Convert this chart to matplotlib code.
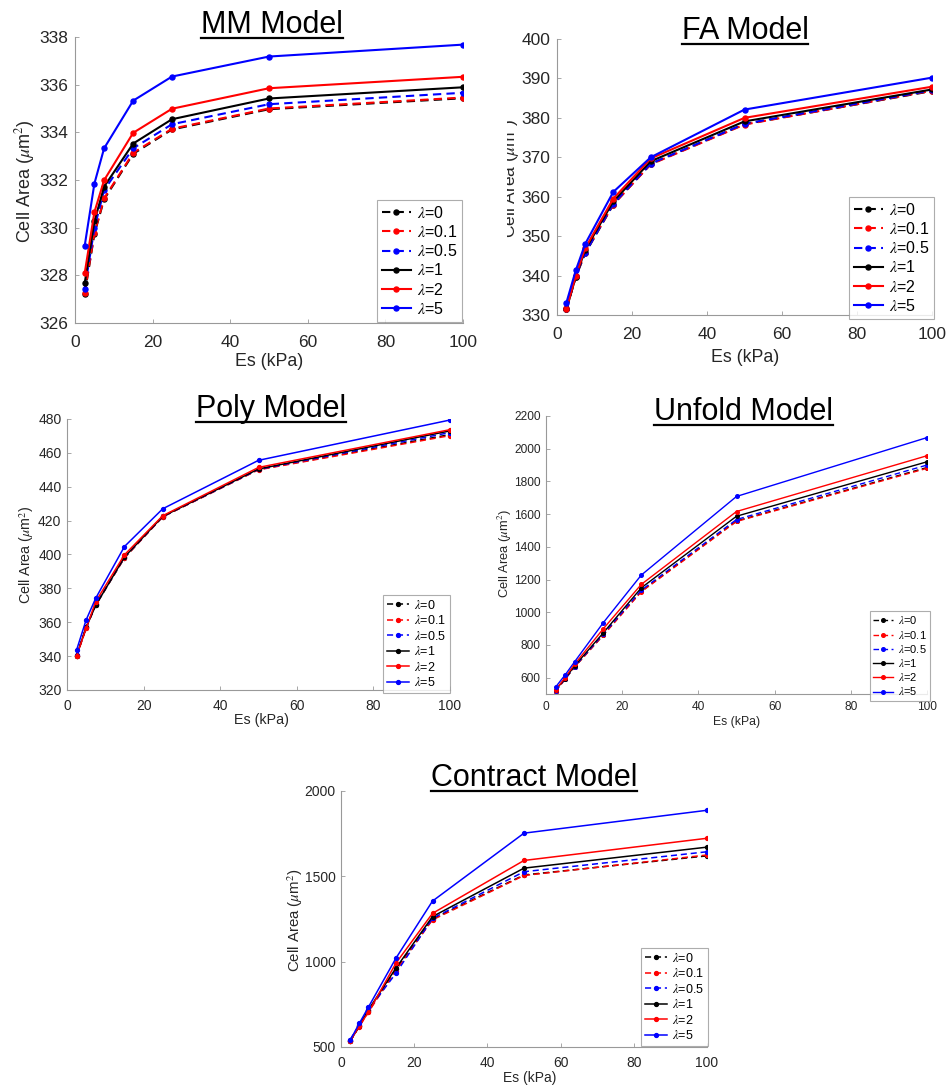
import numpy as np
import matplotlib.pyplot as plt
from matplotlib.lines import Line2D
from matplotlib.transforms import Bbox

plt.rcParams['font.family'] = ['Liberation Sans', 'DejaVu Sans']
plt.rcParams['mathtext.fontset'] = 'stix'

# === Data ===
es = [2.5, 5, 7.5, 15, 25, 50, 100]
lam_labels = [r'$\lambda$=0', r'$\lambda$=0.1', r'$\lambda$=0.5',
              r'$\lambda$=1', r'$\lambda$=2', r'$\lambda$=5']
line_colors = ['k', 'r', 'b', 'k', 'r', 'b']
line_styles = ['--', '--', '--', '-', '-', '-']

mm_area = [
    [327.23, 329.74, 331.19, 333.10, 334.12, 334.97, 335.43],
    [327.26, 329.77, 331.23, 333.14, 334.15, 335.00, 335.46],
    [327.44, 329.98, 331.58, 333.33, 334.34, 335.18, 335.66],
    [327.67, 330.26, 331.72, 333.53, 334.55, 335.42, 335.89],
    [328.09, 330.65, 331.99, 333.98, 334.99, 335.85, 336.33],
    [329.24, 331.85, 333.33, 335.33, 336.34, 337.18, 337.68],
]
fa_area = [
    [331.5, 339.6, 345.6, 358.0, 368.3, 378.4, 386.8],
    [331.8, 339.8, 345.8, 358.0, 368.2, 378.3, 386.9],
    [331.4, 340.0, 345.7, 358.2, 368.4, 378.5, 387.0],
    [331.4, 339.7, 346.5, 358.8, 369.0, 379.1, 387.2],
    [331.5, 339.9, 346.9, 359.5, 369.7, 380.0, 387.9],
    [333.1, 341.3, 348.0, 361.2, 370.0, 382.1, 390.2],
]
poly_area = [
    [340.0, 357.0, 370.0, 398.0, 422.3, 450.2, 470.8],
    [339.8, 356.5, 370.5, 398.0, 422.3, 450.0, 470.2],
    [340.5, 357.0, 370.5, 398.5, 422.5, 450.3, 472.0],
    [340.3, 357.0, 370.0, 398.5, 422.5, 450.5, 473.0],
    [340.1, 356.5, 372.2, 399.8, 422.9, 451.4, 473.7],
    [343.6, 361.4, 374.2, 404.7, 427.0, 455.6, 479.4],
]
unfold_area = [
    [518, 590, 665, 860, 1128, 1558, 1885],
    [515, 590, 665, 858, 1125, 1555, 1880],
    [520, 592, 668, 865, 1135, 1567, 1900],
    [524, 594, 672, 873, 1149, 1587, 1920],
    [524, 600, 682, 898, 1170, 1616, 1957],
    [542, 616, 697, 935, 1227, 1708, 2068],
]
contract_area = [
    [533, 622, 710, 955, 1250, 1508, 1620],
    [535, 620, 705, 948, 1245, 1505, 1625],
    [543, 630, 718, 932, 1254, 1527, 1644],
    [533, 625, 718, 962, 1264, 1548, 1671],
    [533, 625, 703, 991, 1283, 1593, 1723],
    [539, 638, 734, 1020, 1355, 1753, 1887],
]

titles = ['MM Model', 'FA Model', 'Poly Model', 'Unfold Model', 'Contract Model']
areas = [mm_area, fa_area, poly_area, unfold_area, contract_area]
ylims = [(326, 338), (330, 400), (320, 480), (500, 2200), (500, 2000)]
yticks = [np.arange(326, 339, 2), np.arange(330, 401, 10), np.arange(320, 481, 20),
          np.arange(600, 2201, 200), np.arange(500, 2001, 500)]

# === Layout (pixels in the 947x1088 image) ===
W, H = 947, 1088
# axes box: left, top, right, bottom
boxes = [(75, 37, 463, 323), (557, 39, 932, 315), (67, 419, 450, 690),
         (546, 416, 927, 694), (341, 791, 707, 1047)]
title_pos = [(272, 33), (745, 39), (271, 417), (743, 420), (534, 786)]
xlab_pos = [(269, 362), (745, 357), (261, 720), (737, 722), (530, 1078)]
ylab_pos = [(25, 181), (510, 178), (27, 555), (505, 553), (295, 920)]
leg_pos = [(377, 200), (849, 197), (383, 595), (870, 611), (641, 948)]
tick_fs = [12.5, 12.5, 10, 8.6, 10]
xpad = [8.5, 8.5, 6.5, 5, 6.5]
ypad = [5, 5, 4, 4, 4]
lab_fs = [13, 12.5, 10.3, 9.3, 10.8]
xlab_fs = [12.8, 12.8, 10.3, 8.8, 10]
leg_fs = [11.5, 11.5, 9, 8, 9]
lws = [1.5, 1.5, 1.1, 1.0, 1.1]
mss = [3.6, 3.6, 2.8, 2.6, 2.8]

fig = plt.figure(figsize=(W / 100, H / 100), dpi=100)
fig.patch.set_facecolor('white')

title_texts = []
for i in range(5):
    l, t, r, b = boxes[i]
    ax = fig.add_axes([l / W, 1 - b / H, (r - l) / W, (b - t) / H])
    for k in range(6):
        ax.plot(es, areas[i][k], color=line_colors[k], linestyle=line_styles[k],
                marker='o', markersize=mss[i], linewidth=lws[i],
                dashes=(4, 2.5) if line_styles[k] == '--' else (None, None),
                label=lam_labels[k])
    ax.set_xlim(0, 100)
    ax.set_ylim(*ylims[i])
    ax.set_xticks(np.arange(0, 101, 20))
    ax.set_yticks(yticks[i])
    ax.spines['top'].set_visible(False)
    ax.spines['right'].set_visible(False)
    for s in ['left', 'bottom']:
        ax.spines[s].set_color('#999999')
        ax.spines[s].set_linewidth(0.8)
    ax.tick_params(direction='in', length=3, width=0.6, colors='#999999',
                   labelcolor='#262626', labelsize=tick_fs[i])
    ax.tick_params(axis='x', pad=xpad[i])
    ax.tick_params(axis='y', pad=ypad[i])

    lx, ly = leg_pos[i]
    leg = ax.legend(loc='upper left', bbox_to_anchor=(lx / W, 1 - ly / H),
                    bbox_transform=fig.transFigure, fontsize=leg_fs[i],
                    frameon=True, fancybox=False, borderaxespad=0,
                    handlelength=1.8, handletextpad=0.4, labelspacing=0.2,
                    borderpad=0.3)
    leg.get_frame().set_edgecolor('#999999')
    leg.get_frame().set_linewidth(0.8)

    tx, ty = title_pos[i]
    title_texts.append(fig.text(tx / W, 1 - ty / H, titles[i], ha='center',
                                va='baseline', fontsize=22, color='black'))
    xx, xy = xlab_pos[i]
    fig.text(xx / W, 1 - xy / H, 'Es (kPa)', ha='center', va='center',
             fontsize=xlab_fs[i], color='#262626')
    yx, yy = ylab_pos[i]
    ylab = fig.text(yx / W, 1 - yy / H, r'Cell Area ($\mu$m$^2$)', ha='center',
                    va='center', rotation=90, fontsize=lab_fs[i], color='#262626')
    if i == 1:
        # the FA label is half hidden in the reference
        ylab.set_clip_box(Bbox.from_extents(507, 0, 540, H))
        ylab.set_clip_on(True)

# underline the titles
fig.canvas.draw()
renderer = fig.canvas.get_renderer()
for t in title_texts:
    bb = t.get_window_extent(renderer)
    yline = t.get_position()[1] - 5 / H
    fig.add_artist(Line2D([bb.x0 / W, bb.x1 / W], [yline, yline],
                          color='black', linewidth=1.6))

fig.savefig('out.png', dpi=100, facecolor='white')
